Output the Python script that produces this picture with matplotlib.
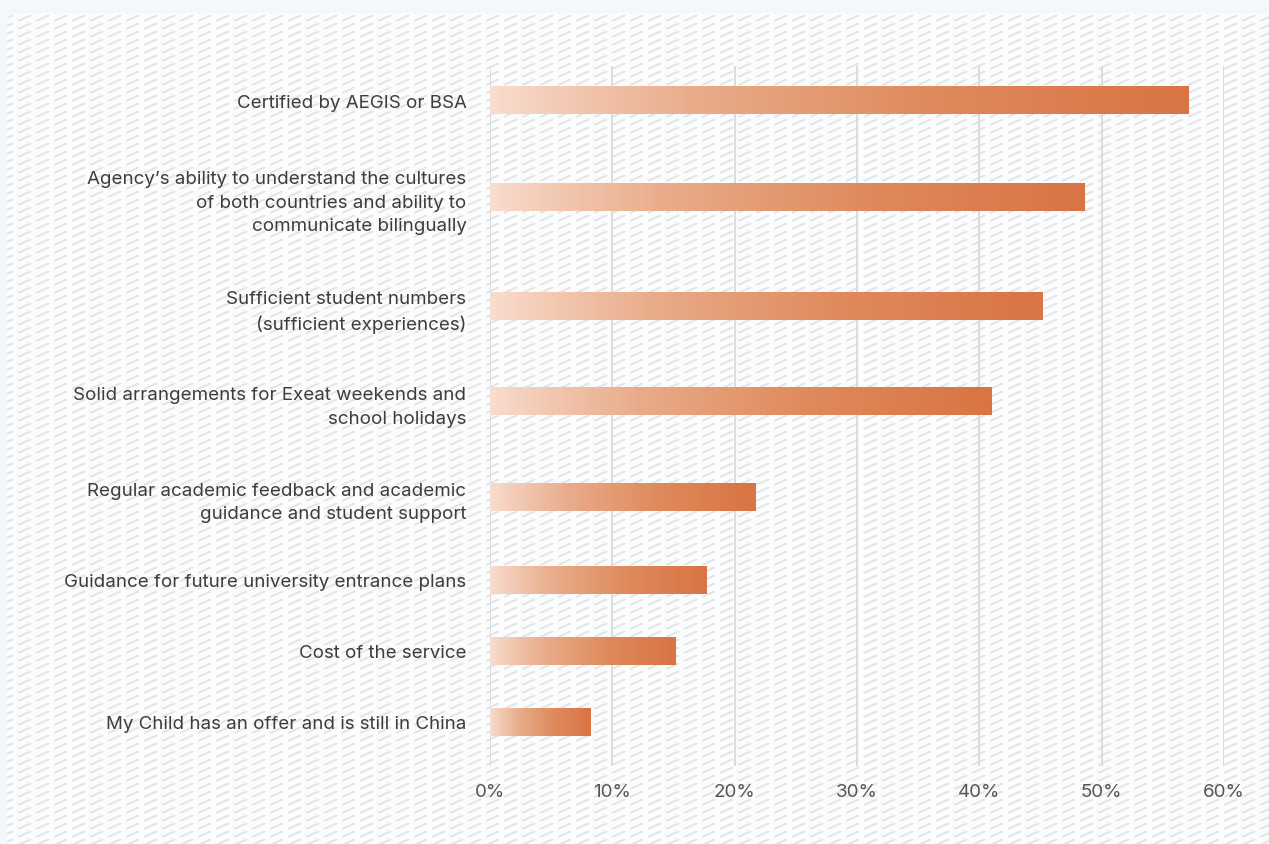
import numpy as np
import matplotlib.pyplot as plt
from matplotlib.patches import FancyBboxPatch
from matplotlib.collections import LineCollection
from matplotlib.colors import LinearSegmentedColormap

plt.rcParams['font.family'] = ['Inter', 'DejaVu Sans']

# survey answers and share of respondents (%)
labels = [
    "Certified by AEGIS or BSA",
    "Agency’s ability to understand the cultures\nof both countries and ability to\ncommunicate bilingually",
    "Sufficient student numbers\n(sufficient experiences)",
    "Solid arrangements for Exeat weekends and\nschool holidays",
    "Regular academic feedback and academic\nguidance and student support",
    "Guidance for future university entrance plans",
    "Cost of the service",
    "My Child has an offer and is still in China",
]
values = [57.1, 48.6, 45.2, 41.0, 21.7, 17.7, 15.2, 8.2]
xticks = [0, 10, 20, 30, 40, 50, 60]
xtick_labels = ["0%", "10%", "20%", "30%", "40%", "50%", "60%"]

W, H = 1269, 845
fig = plt.figure(figsize=(W / 100, H / 100), dpi=100, facecolor="#f5f8fa")

# background panel with dashed diagonal texture
bg = fig.add_axes([0, 0, 1, 1], zorder=0)
bg.set_xlim(0, W)
bg.set_ylim(H, 0)
bg.axis("off")
panel = FancyBboxPatch((7, 14), W + 40, H + 40, boxstyle="round,pad=0,rounding_size=10",
                       facecolor="#fbfcfd", edgecolor="none")
bg.add_patch(panel)
px, py, dash = 18, 8, 13
segs = []
for gx in np.arange(0, W + px, px):
    for gy in np.arange(14, H + py, py):
        segs.append([(gx, gy), (gx + dash, gy - dash * py / px)])
tex = LineCollection(segs, colors="#e4e4e4", linewidths=1.4, capstyle="butt")
bg.add_collection(tex)
tex.set_clip_path(panel)

# main bar chart
x0, x1 = 490, 1224
y_top, y_bot = 67, 767
ax = fig.add_axes([x0 / W, 1 - y_bot / H, (x1 - x0) / W, (y_bot - y_top) / H], zorder=1)
ax.patch.set_alpha(0)

# row height grows with the number of label lines
row_h = {1: 71, 2: 95.5, 3: 122.5}
heights = np.array([row_h[lab.count("\n") + 1] for lab in labels])
centers = np.cumsum(heights) - heights / 2

cmap = LinearSegmentedColormap.from_list("peach", ["#f9ddcf", "#e9ac8a", "#df8a5c", "#d97444"])
grad = np.linspace(0, 1, 256)[None, :] ** 0.9
bar_h = 28
for v, yc in zip(values, centers):
    ax.imshow(grad, cmap=cmap, aspect="auto", interpolation="bicubic",
              extent=(0, v, yc + bar_h / 2, yc - bar_h / 2), zorder=3)
ax.set_ylim(701.5, 1.5)
ax.set_xlim(0, 60)

ax.set_xticks(xticks, xtick_labels)
ax.set_yticks(centers, labels)
for t in ax.get_yticklabels():
    t.set_multialignment("right")
    t.set_linespacing(1.5)
ax.tick_params(axis="both", length=0, labelsize=13.5, colors="#444444")
ax.tick_params(axis="y", pad=17, labelcolor="#3d3d3d")
ax.tick_params(axis="x", pad=12, labelcolor="#555555")
ax.grid(axis="x", color="#dcdcdc", lw=1.4, zorder=1)
ax.set_axisbelow(True)
for s in ax.spines.values():
    s.set_visible(False)

fig.savefig("out.png", dpi=100, facecolor=fig.get_facecolor())
